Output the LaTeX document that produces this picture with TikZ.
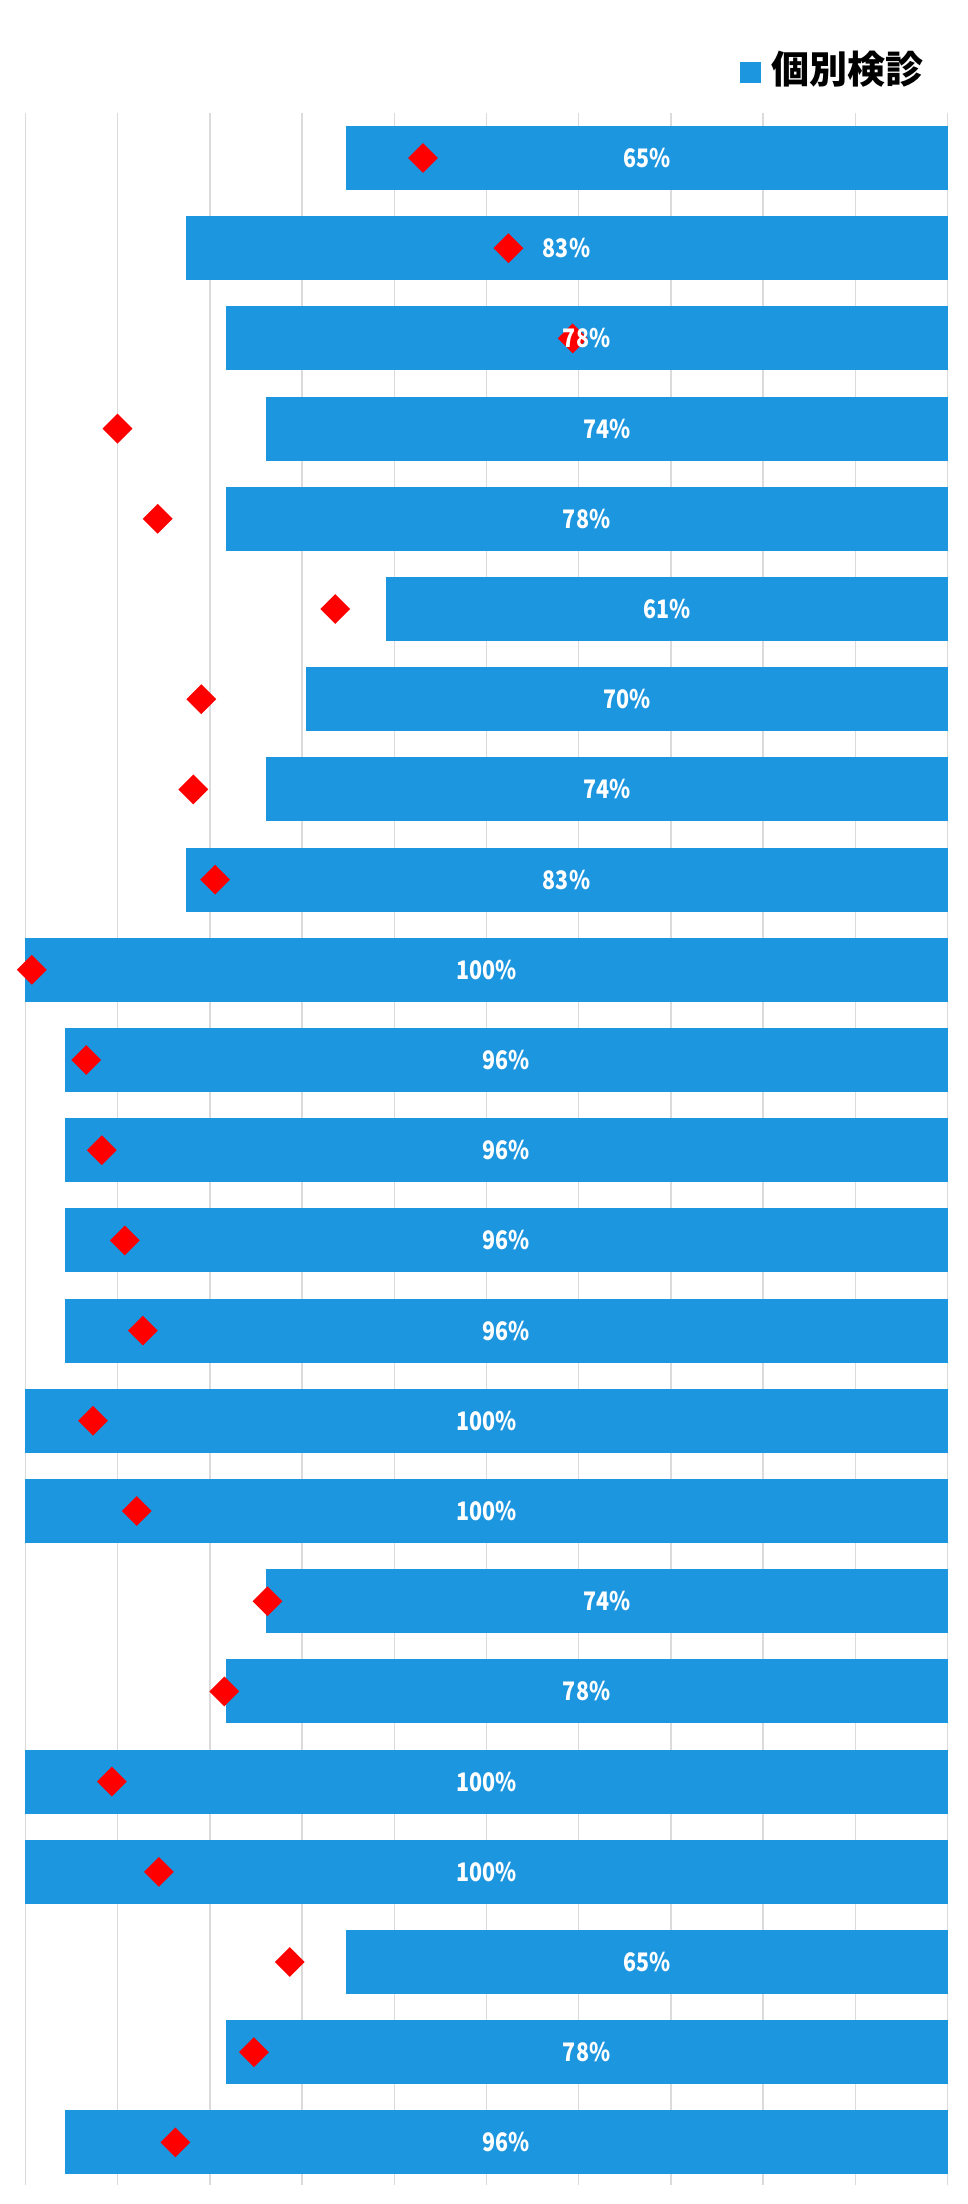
\documentclass[tikz,border=0pt]{standalone}
\usepackage{fontspec}
\setmainfont{Noto Sans CJK JP}
\newfontfamily\lblfont[FakeStretch=0.84]{Noto Sans CJK JP}
\usetikzlibrary{shapes.geometric}
\definecolor{barblue}{RGB}{29,150,224}
\definecolor{gridgray}{RGB}{219,219,219}
\definecolor{mkred}{RGB}{255,0,0}
\begin{document}
\begin{tikzpicture}[x=1pt,y=-1pt,
  bar/.style={fill=barblue, draw=none, inner sep=0pt, minimum height=64pt, anchor=east},
  mk/.style={diamond, fill=mkred, draw=none, inner sep=0pt, minimum width=30pt, minimum height=30pt},
  lbl/.style={text=white, font=\lblfont\fontsize{25.5}{30}\selectfont\bfseries, inner sep=0pt},
  gl/.style={draw=gridgray, line width=1.5pt},
  legsq/.style={fill=barblue, draw=none, inner sep=0pt, minimum size=21.5pt},
  legtxt/.style={text=black, font=\fontsize{38}{44}\selectfont\bfseries, inner sep=0pt}]
\fill[white] (0,0) rectangle (968,2204);
\useasboundingbox (0,0) rectangle (968,2204);
% grid
\foreach \k in {0,...,10} {
  \draw[gl] ({25.3+\k*92.24},113) -- ({25.3+\k*92.24},2185);
}
% bars, markers, labels
\foreach \n/\dx [count=\i] in {15/423, 19/508.4, 18/572.7, 17/117.5, 18/157.7, 14/335.3,
    16/201.3, 17/193.3, 19/215.1, 23/31.8, 22/86.2, 22/101.8, 22/124.8, 22/142.8,
    23/93, 23/136.7, 17/267.5, 18/224.3, 23/111.8, 23/158.9, 15/289.7, 18/253.9, 22/175.4} {
  \pgfmathsetmacro{\w}{\n/23*922.4}
  \pgfmathsetmacro{\yc}{158+(\i-1)*90.2}
  \pgfmathtruncatemacro{\p}{round(\n/23*100)}
  \node[bar, minimum width=\w pt] (b\i) at (947.7,\yc) {};
  \node[mk] (m\i) at (\dx,\yc) {};
  \node[lbl] (t\i) at (b\i.center) {\p\%};
}
% legend
\node[legsq] (lsq) at (750.3,72.7) {};
\node[legtxt] (ltx) at (847.5,69.4) {個別検診};
\end{tikzpicture}
\end{document}
